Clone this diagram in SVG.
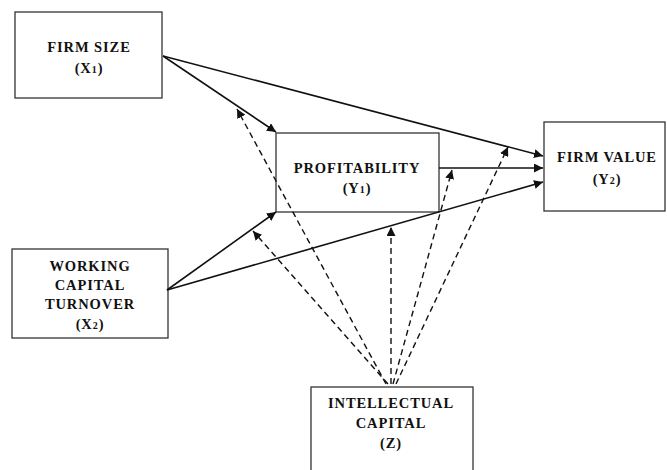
<svg xmlns="http://www.w3.org/2000/svg" width="667" height="470" viewBox="0 0 667 470">
<style>
.box{fill:none;stroke:#333;stroke-width:1.3}
.t{font-family:"Liberation Serif","Times New Roman",serif;font-weight:bold;font-size:14.5px;fill:#111;text-anchor:middle;letter-spacing:0.9px}
.s{font-size:10px}
.c{stroke:#111;stroke-width:1.6;fill:none;marker-end:url(#ah)}
.d{stroke:#111;stroke-width:1.4;fill:none;stroke-dasharray:6,4;marker-end:url(#ah)}
</style>
<defs>
<marker id="ah" viewBox="0 0 10 10" refX="10" refY="5" markerWidth="9" markerHeight="9" markerUnits="userSpaceOnUse" orient="auto">
<path d="M0,0 L10,5 L0,10 z" fill="#111"/>
</marker>
</defs>
<rect width="667" height="470" fill="#fff"/>
<g id="firm-size">
<rect class="box" x="15" y="12" width="147" height="86"/>
<text class="t" x="89" y="52">FIRM SIZE</text>
<text class="t" x="89" y="73">(X<tspan class="s">1</tspan>)</text>
</g>
<g id="profitability">
<rect class="box" x="276" y="133" width="163" height="79"/>
<text class="t" x="357" y="173">PROFITABILITY</text>
<text class="t" x="357" y="193">(Y<tspan class="s">1</tspan>)</text>
</g>
<g id="firm-value">
<rect class="box" x="544" y="122" width="121" height="89"/>
<text class="t" x="607" y="162">FIRM VALUE</text>
<text class="t" x="607" y="184">(Y<tspan class="s">2</tspan>)</text>
</g>
<g id="working-capital-turnover">
<rect class="box" x="12" y="249" width="156" height="89"/>
<text class="t" x="90" y="271">WORKING</text>
<text class="t" x="90" y="290">CAPITAL</text>
<text class="t" x="90" y="309">TURNOVER</text>
<text class="t" x="90" y="329">(X<tspan class="s">2</tspan>)</text>
</g>
<g id="intellectual-capital">
<rect class="box" x="311" y="387" width="162" height="84"/>
<text class="t" x="391" y="408">INTELLECTUAL</text>
<text class="t" x="391" y="428">CAPITAL</text>
<text class="t" x="391" y="448">(Z)</text>
</g>
<g id="connectors">
<line class="c" x1="163" y1="56" x2="276" y2="132"/>
<line class="c" x1="163" y1="56" x2="543" y2="156"/>
<line class="c" x1="439" y1="168" x2="543" y2="168"/>
<line class="c" x1="167" y1="290" x2="276" y2="212"/>
<line class="c" x1="167" y1="290" x2="543" y2="182"/>
<line class="d" x1="386" y1="384" x2="237" y2="109"/>
<line class="d" x1="388" y1="384" x2="253" y2="231"/>
<line class="d" x1="391" y1="384" x2="391" y2="227"/>
<line class="d" x1="393" y1="384" x2="452" y2="170"/>
<line class="d" x1="396" y1="384" x2="508" y2="147"/>
</g>
</svg>
